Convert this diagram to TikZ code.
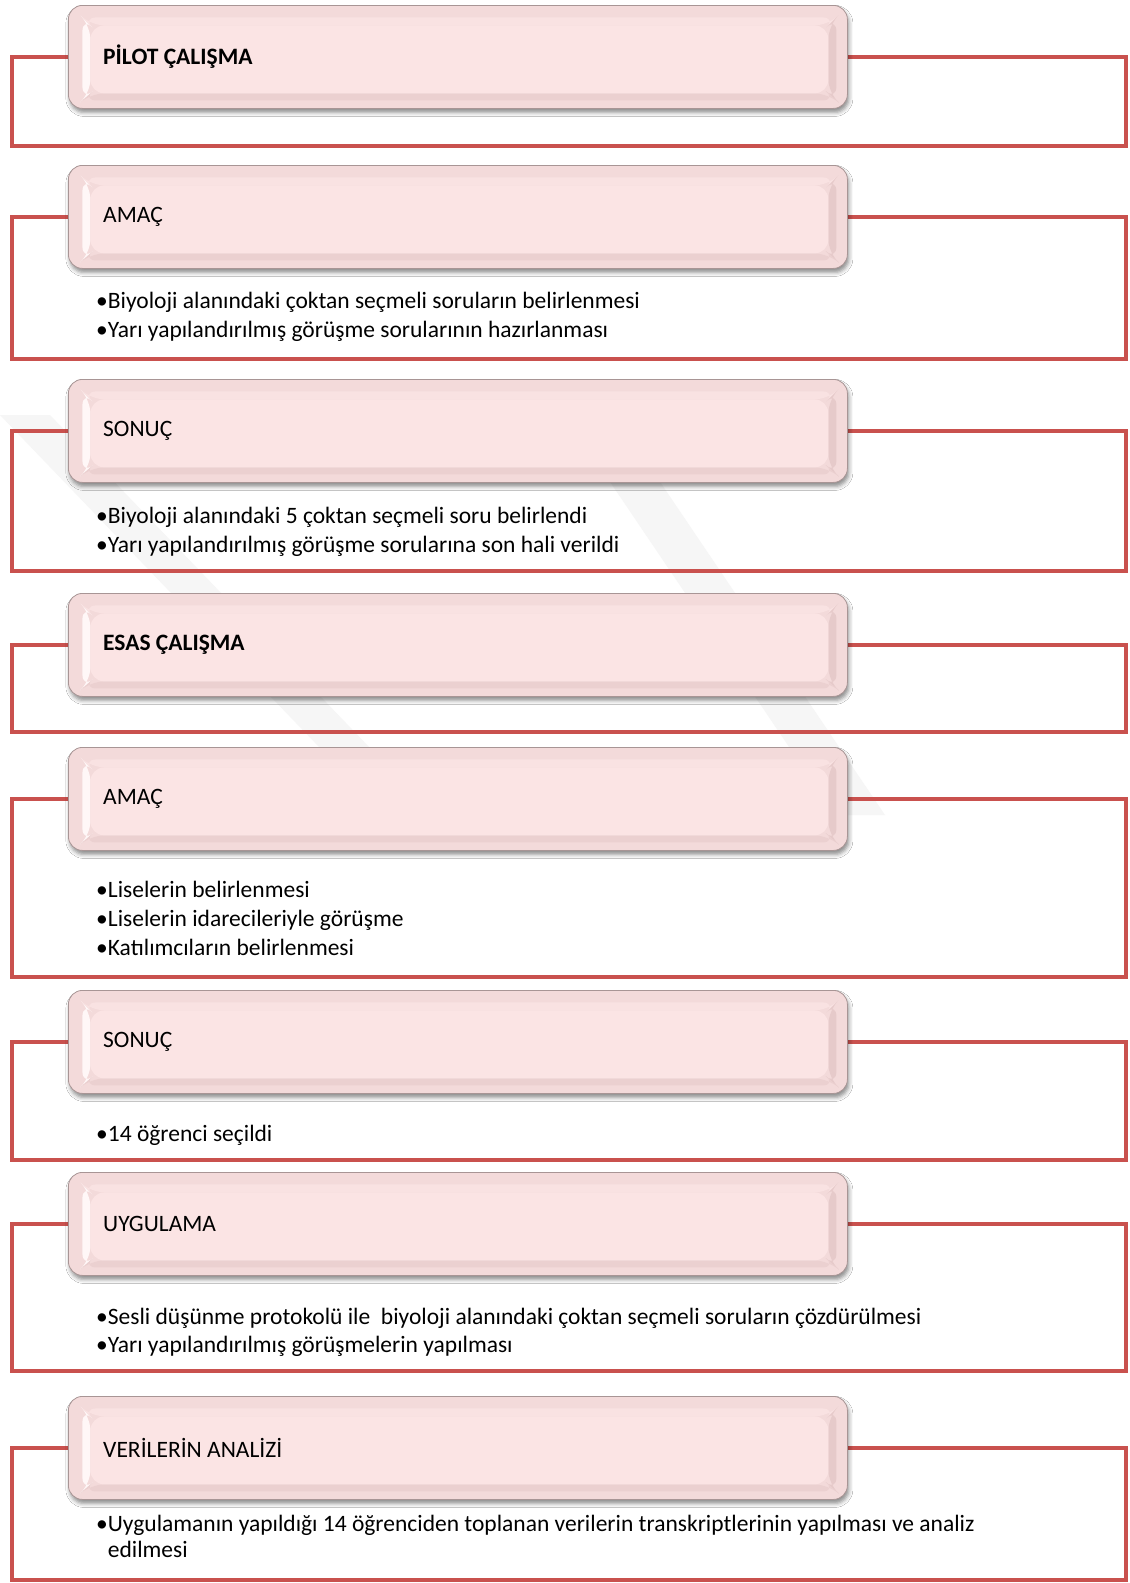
\documentclass[tikz,border=0pt]{standalone}
\usepackage{fontspec}
\setmainfont{Carlito}
\usetikzlibrary{shadows.blur}
\pgfdeclarelayer{background}
\pgfsetlayers{background,main}

\definecolor{framered}{HTML}{C9514E}
\definecolor{facepink}{HTML}{FBE4E4}
\definecolor{ringpink}{HTML}{F3DADA}
\definecolor{lightface}{HTML}{FFF7F7}
\definecolor{topface}{HTML}{F9E2E2}
\definecolor{darkface}{HTML}{E6CACA}
\definecolor{lowface}{HTML}{EBD0D0}
\definecolor{boxedge}{HTML}{A89595}
\definecolor{markgray}{HTML}{F6F6F6}

\newcommand\stagefont{\fontsize{23.5}{28}\selectfont}

\tikzset{
  frame/.style={draw=framered, line width=4.5pt},
  stage/.style={
    anchor=north west, rounded corners=14pt,
    minimum width=779pt, minimum height=103pt, inner sep=0pt,
    fill=ringpink, draw=boxedge, line width=0.8pt,
    blur shadow={shadow xshift=1.5pt, shadow yshift=-4pt,
                 shadow blur radius=4pt, shadow opacity=45},
    path picture={
      \coordinate (otl) at ([xshift=14pt,yshift=-12pt]path picture bounding box.north west);
      \coordinate (otr) at ([xshift=-11pt,yshift=-12pt]path picture bounding box.north east);
      \coordinate (obr) at ([xshift=-11pt,yshift=8pt]path picture bounding box.south east);
      \coordinate (obl) at ([xshift=14pt,yshift=8pt]path picture bounding box.south west);
      \coordinate (itl) at ([xshift=22pt,yshift=-20pt]path picture bounding box.north west);
      \coordinate (itr) at ([xshift=-19pt,yshift=-20pt]path picture bounding box.north east);
      \coordinate (ibr) at ([xshift=-19pt,yshift=15pt]path picture bounding box.south east);
      \coordinate (ibl) at ([xshift=22pt,yshift=15pt]path picture bounding box.south west);
      \fill[lightface] (otl) -- (itl) -- (ibl) -- (obl) -- cycle;
      \fill[topface] (otl) -- (otr) -- (itr) -- (itl) -- cycle;
      \fill[darkface] (otr) -- (obr) -- (ibr) -- (itr) -- cycle;
      \fill[lowface] (obl) -- (obr) -- (ibr) -- (ibl) -- cycle;
      \fill[facepink] (itl) rectangle (ibr);
    }},
  title/.style={anchor=west, inner sep=0pt, font=\stagefont},
  item/.style={anchor=base west, inner sep=0pt, font=\stagefont},
}

\begin{document}
\begin{tikzpicture}[x=1pt, y=-1pt]
\useasboundingbox (0,0) rectangle (1130,1583);

% frame columns
\coordinate (L) at (12,0);
\coordinate (R) at (1126,0);

% stage boxes
\node[stage] (s1) at (68,5)    {};
\node[stage] (s2) at (68,165)  {};
\node[stage] (s3) at (68,379)  {};
\node[stage] (s4) at (68,593)  {};
\node[stage] (s5) at (68,747)  {};
\node[stage] (s6) at (68,990)  {};
\node[stage] (s7) at (68,1172) {};
\node[stage] (s8) at (68,1396) {};

% stage titles
\node[title] (h1) at ([xshift=35pt]s1.west) {\bfseries PİLOT ÇALIŞMA};
\node[title] (h2) at ([xshift=35pt]s2.west) {AMAÇ};
\node[title] (h3) at ([xshift=35pt]s3.west) {SONUÇ};
\node[title] (h4) at ([xshift=35pt]s4.west) {\bfseries ESAS ÇALIŞMA};
\node[title] (h5) at ([xshift=35pt]s5.west) {AMAÇ};
\node[title] (h6) at ([xshift=35pt]s6.west) {SONUÇ};
\node[title] (h7) at ([xshift=35pt]s7.west) {UYGULAMA};
\node[title] (h8) at ([xshift=35pt]s8.west) {VERİLERİN ANALİZİ};

% bullet items
\node[item] (t21) at (96,308) {•Biyoloji alanındaki çoktan seçmeli soruların belirlenmesi};
\node[item] (t22) at (96,337) {•Yarı yapılandırılmış görüşme sorularının hazırlanması};
\node[item] (t31) at (96,523) {•Biyoloji alanındaki 5 çoktan seçmeli soru belirlendi};
\node[item] (t32) at (96,552) {•Yarı yapılandırılmış görüşme sorularına son hali verildi};
\node[item] (t51) at (96,897) {•Liselerin belirlenmesi};
\node[item] (t52) at (96,926) {•Liselerin idarecileriyle görüşme};
\node[item] (t53) at (96,955) {•Katılımcıların belirlenmesi};
\node[item] (t61) at (96,1141) {•14 öğrenci seçildi};
\node[item] (t71) at (96,1324) {•Sesli düşünme protokolü ile\ \ biyoloji alanındaki çoktan seçmeli soruların çözdürülmesi};
\node[item] (t72) at (96,1352) {•Yarı yapılandırılmış görüşmelerin yapılması};
\node[item] (t81) at (96,1531) {•Uygulamanın yapıldığı 14 öğrenciden toplanan verilerin transkriptlerinin yapılması ve analiz};
\node[item] (t82) at (96,1557) {\hphantom{•}edilmesi};

% frame bottoms
\coordinate (f1) at (1126,146);
\coordinate (f2) at (1126,359);
\coordinate (f3) at (1126,571);
\coordinate (f4) at (1126,732);
\coordinate (f5) at (1126,977);
\coordinate (f6) at (1126,1160);
\coordinate (f7) at (1126,1371);
\coordinate (f8) at (1126,1580);

\begin{pgfonlayer}{background}
  \fill[white] (0,0) rectangle (1130,1583);
  % faint background mark
  \fill[markgray] (0,415) -- (50,415) -- (420,800) -- (370,800) -- cycle;
  \fill[markgray] (575,430) -- (625,430) -- (885,815) -- (835,815) -- cycle;
  % red frames, each leaving its box on the left and returning on the right
  \foreach \s/\f in {s1/f1, s2/f2, s3/f3, s4/f4, s5/f5, s6/f6, s7/f7, s8/f8}
    \draw[frame] (\s.west) -- (\s.west -| L) |- (\f) |- (\s.east);
\end{pgfonlayer}
\end{tikzpicture}
\end{document}
